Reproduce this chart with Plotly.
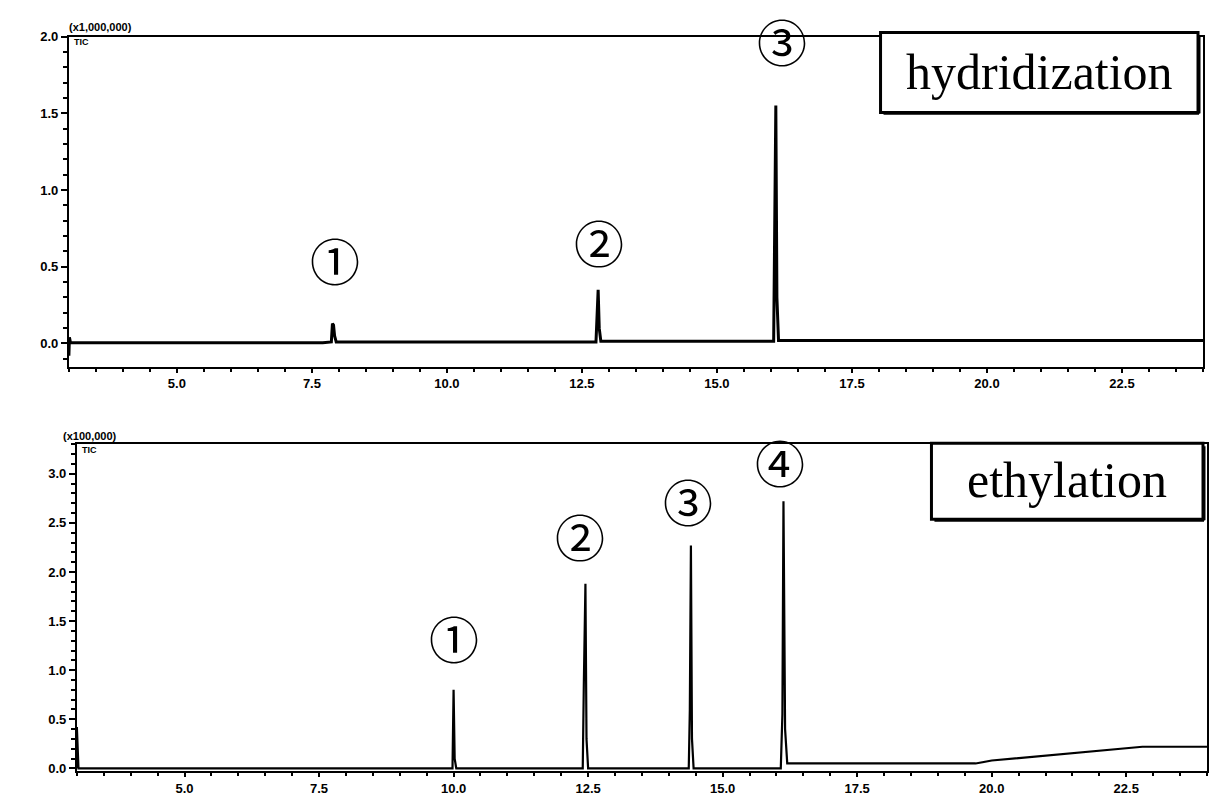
import plotly.graph_objects as go
from plotly.subplots import make_subplots

# Total ion chromatograms (retention time in min, TIC in scaled units)
hyd_time = [3.00, 3.01, 3.03, 7.70, 7.86, 7.88, 7.90, 7.92, 7.95, 12.76, 12.80,
            12.82, 12.85, 16.05, 16.09, 16.11, 16.14, 24.00]
hyd_tic = [-0.08, 0.04, 0.005, 0.005, 0.01, 0.13, 0.12, 0.05, 0.01, 0.01, 0.35,
           0.10, 0.015, 0.015, 1.55, 0.30, 0.02, 0.02]

eth_time = [3.00, 3.00, 3.03, 9.98, 10.00, 10.02, 10.05, 12.40, 12.42, 12.45,
            12.47, 12.50, 14.37, 14.39, 14.41, 14.43, 14.46, 16.08, 16.11, 16.13,
            16.16, 16.20, 16.45, 19.70, 20.00, 21.00, 22.00, 22.80, 24.00]
eth_tic = [0.00, 0.42, 0.00, 0.00, 0.80, 0.10, 0.00, 0.00, 0.85, 1.88,
           0.30, 0.00, 0.00, 0.60, 2.27, 0.30, 0.00, 0.00, 0.55, 2.72,
           0.40, 0.05, 0.05, 0.05, 0.08, 0.13, 0.18, 0.22, 0.22]

# Peak markers: (retention time, height of label centre)
hyd_marks = ["①", "②", "③"]
hyd_mark_x = [7.92, 12.81, 16.20]
hyd_mark_y = [0.51, 0.63, 1.94]

eth_marks = ["①", "②", "③", "④"]
eth_mark_x = [10.01, 12.35, 14.35, 16.06]
eth_mark_y = [1.31, 2.35, 2.70, 3.10]

x_ticks = [5.0, 7.5, 10.0, 12.5, 15.0, 17.5, 20.0, 22.5]
x_tick_text = ["5.0", "7.5", "10.0", "12.5", "15.0", "17.5", "20.0", "22.5"]
hyd_y_ticks = [0.0, 0.5, 1.0, 1.5, 2.0]
eth_y_ticks = [0.0, 0.5, 1.0, 1.5, 2.0, 2.5, 3.0]

W, H = 1209, 797


def px_x(p):
    return p / W


def px_y(p):
    return 1 - p / H


fig = make_subplots(rows=2, cols=1)

fig.add_trace(go.Scatter(x=hyd_time, y=hyd_tic, mode="lines",
                         line=dict(color="black", width=3),
                         hoverinfo="skip", showlegend=False), row=1, col=1)
fig.add_trace(go.Scatter(x=eth_time, y=eth_tic, mode="lines",
                         line=dict(color="black", width=2.2),
                         hoverinfo="skip", showlegend=False), row=2, col=1)

tickfont = dict(family="Liberation Sans", size=13, color="black", weight="bold")
common_x = dict(range=[3.0, 24.0], tickvals=x_ticks, ticktext=x_tick_text,
                showline=True, linecolor="black", linewidth=2, mirror=True,
                ticks="outside", ticklen=4, tickwidth=2, tickcolor="black",
                minor=dict(dtick=0.5, tick0=0, ticks="outside", ticklen=3,
                           tickwidth=1.5, tickcolor="black"),
                showgrid=False, zeroline=False, tickfont=tickfont)
common_y = dict(showline=True, linecolor="black", linewidth=2, mirror=True,
                ticks="outside", ticklen=6, tickwidth=2, tickcolor="black",
                minor=dict(dtick=0.1, tick0=0, ticks="outside", ticklen=4,
                           tickwidth=1.5, tickcolor="black"),
                showgrid=False, zeroline=False, tickfont=tickfont,
                tickformat=".1f")

fig.update_xaxes(**common_x, domain=[px_x(69), px_x(1205)], row=1, col=1)
fig.update_xaxes(**common_x, domain=[px_x(77), 1.0], row=2, col=1)
fig.update_yaxes(**common_y, range=[-0.15, 2.0], tickvals=hyd_y_ticks,
                 domain=[px_y(365), px_y(30)], row=1, col=1)
fig.update_yaxes(**common_y, range=[-0.03, 3.3], tickvals=eth_y_ticks,
                 domain=[px_y(776), px_y(444)], row=2, col=1)

annotations = []
mark_font = dict(family="Noto Sans CJK JP", size=50, color="black")
for t, x, y in zip(hyd_marks, hyd_mark_x, hyd_mark_y):
    annotations.append(dict(x=x, y=y, xref="x", yref="y", text=t,
                            showarrow=False, font=mark_font,
                            xanchor="center", yanchor="middle", yshift=6))
for t, x, y in zip(eth_marks, eth_mark_x, eth_mark_y):
    annotations.append(dict(x=x, y=y, xref="x2", yref="y2", text=t,
                            showarrow=False, font=mark_font,
                            xanchor="center", yanchor="middle", yshift=3))

small = dict(family="Liberation Sans", size=11, color="black", weight="bold")
tiny = dict(family="Liberation Sans", size=9, color="black", weight="bold")
annotations += [
    dict(x=px_x(67), y=px_y(20), xref="paper", yref="paper", text="(x1,000,000)",
         showarrow=False, xanchor="left", yanchor="middle", font=small),
    dict(x=px_x(72), y=px_y(36), xref="paper", yref="paper", text="TIC",
         showarrow=False, xanchor="left", yanchor="middle", font=tiny),
    dict(x=px_x(61), y=px_y(436), xref="paper", yref="paper", text="(x100,000)",
         showarrow=False, xanchor="left", yanchor="middle", font=small),
    dict(x=px_x(80), y=px_y(450), xref="paper", yref="paper", text="TIC",
         showarrow=False, xanchor="left", yanchor="middle", font=tiny),
]

# Boxed method labels
shapes = []
label_font = dict(family="Liberation Serif", size=50, color="black")
for text, (x0, y0, x1, y1) in [("hydridization", (882, 26, 1200, 107)),
                               ("ethylation", (933, 443, 1205, 520))]:
    shapes.append(dict(type="rect", xref="paper", yref="paper",
                       x0=px_x(x0), x1=px_x(x1), y0=px_y(y1), y1=px_y(y0),
                       line=dict(color="black", width=3), fillcolor="white",
                       layer="above"))
    shapes.append(dict(type="line", xref="paper", yref="paper",
                       x0=px_x(x0 + 3), x1=px_x(x1 + 1), y0=px_y(y1 + 1), y1=px_y(y1 + 1),
                       line=dict(color="black", width=3), layer="above"))
    shapes.append(dict(type="line", xref="paper", yref="paper",
                       x0=px_x(x1 + 1), x1=px_x(x1 + 1), y0=px_y(y0 + 3), y1=px_y(y1 + 1),
                       line=dict(color="black", width=3), layer="above"))
    annotations.append(dict(x=px_x((x0 + x1) / 2), y=px_y((y0 + y1) / 2 - 1),
                            xref="paper", yref="paper", text=text,
                            xanchor="center", yanchor="middle",
                            showarrow=False, font=label_font))

fig.update_layout(width=W, height=H, margin=dict(l=0, r=0, t=0, b=0),
                  paper_bgcolor="white", plot_bgcolor="white",
                  annotations=annotations, shapes=shapes, showlegend=False)

fig.write_html("out.html")
